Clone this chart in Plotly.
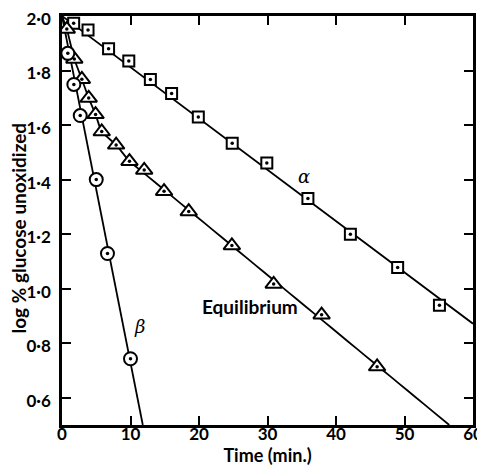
import numpy as np
import plotly.graph_objects as go

# Data
alpha_t = [1.7, 3.8, 6.8, 9.75, 12.9, 16.0, 19.9, 24.85, 29.9, 35.9, 42.1, 49.0, 55.1]
alpha_y = [1.973, 1.949, 1.880, 1.835, 1.767, 1.716, 1.630, 1.533, 1.461, 1.331, 1.200, 1.078, 0.939]

eq_t = [0.7, 1.8, 2.9, 3.9, 4.9, 5.8, 7.9, 9.85, 12.0, 14.9, 18.5, 24.8, 30.9, 37.9, 46.0]
eq_y = [1.952, 1.842, 1.768, 1.699, 1.639, 1.576, 1.527, 1.467, 1.435, 1.357, 1.283, 1.158, 1.017, 0.904, 0.714]

beta_t = [0.85, 1.73, 2.66, 5.0, 6.64, 10.0]
beta_y = [1.863, 1.749, 1.635, 1.400, 1.129, 0.743]

START_LOG = 2.0   # log10(100 %) at t = 0
Y_MIN, Y_MAX = 0.5, 2.0
X_MIN, X_MAX = 0, 60

y_ticks = [0.6, 0.8, 1.0, 1.2, 1.4, 1.6, 1.8, 2.0]
y_ticktext = ["0·6", "0·8", "1·0", "1·2", "1·4", "1·6", "1·8", "2·0"]
x_ticks = [0, 10, 20, 30, 40, 50, 60]

def fit_from_start(t, y):
    t = np.array(t); y = np.array(y)
    return np.sum(t * (y - START_LOG)) / np.sum(t * t)

# alpha fit line
ka = fit_from_start(alpha_t, alpha_y)
a_x = np.array([0, X_MAX])
a_y = START_LOG + ka * a_x

# beta fit line
kb = fit_from_start(beta_t, beta_y)
b_end = (Y_MIN - START_LOG) / kb
b_x = np.array([0, b_end])
b_y = START_LOG + kb * b_x

# equilibrium: early points joined, late phase straight fit
et = np.array(eq_t); ey = np.array(eq_y)
late = et >= 9.85
p = np.polyfit(et[late], ey[late], 1)
e_end = (Y_MIN - p[1]) / p[0]
early = ~late
lx = np.linspace(et[late][0], e_end, 20)
ex = np.concatenate([[0], et[early], lx])
eyc = np.concatenate([[START_LOG], ey[early], np.polyval(p, lx)])

fig = go.Figure()
line_style = dict(color="black", width=1.8)
fig.add_trace(go.Scatter(x=a_x, y=a_y, mode="lines", line=line_style, hoverinfo="skip"))
fig.add_trace(go.Scatter(x=b_x, y=b_y, mode="lines", line=line_style, hoverinfo="skip"))
fig.add_trace(go.Scatter(x=ex, y=eyc, mode="lines",
                         line=dict(color="black", width=1.8, shape="spline", smoothing=0.6), hoverinfo="skip"))

mk_line = dict(color="black", width=2)
for tx, ty, sym, sz in [(alpha_t, alpha_y, "square", 11),
                        (eq_t, eq_y, "triangle-up", 14.5),
                        (beta_t, beta_y, "circle", 13)]:
    fig.add_trace(go.Scatter(x=tx, y=ty, mode="markers",
                             marker=dict(symbol=sym, size=sz, color="white", line=mk_line)))
    fig.add_trace(go.Scatter(x=tx, y=ty, mode="markers",
                             marker=dict(symbol="circle", size=3.5, color="black", line=dict(width=0))))

font = dict(family="Lato", size=17, color="black", weight="bold")
big = dict(family="Lato", size=19, color="black", weight="bold")
xt_font = dict(family="Lato", size=18, color="black", weight="bold")
fig.add_annotation(x=35.3, y=1.413, text="<i>α</i>", showarrow=False,
                   font=dict(family="DejaVu Serif", size=18, color="black"))
fig.add_annotation(x=11.3, y=0.861, text="<i>β</i>", showarrow=False,
                   font=dict(family="DejaVu Serif", size=18, color="black"))
fig.add_annotation(x=27.5, y=0.935, text="Equilibrium", showarrow=False, font=big)
fig.add_annotation(xref="paper", yref="paper", x=0, y=0.5, xshift=-44, yshift=-8,
                   xanchor="center", yanchor="middle",
                   text="log % glucose unoxidized", textangle=-90, showarrow=False, font=big)

axis_common = dict(showline=True, linecolor="black", linewidth=2.5, mirror="ticks",
                   ticks="inside", ticklen=9, tickwidth=1.8, tickcolor="black", automargin=False,
                   showgrid=False, zeroline=False, tickfont=font, ticklabeloverflow="allow")
fig.update_xaxes(range=[X_MIN, X_MAX], tickvals=x_ticks, ticklabelstandoff=-8,
                 title=dict(text="Time (min.)", font=xt_font, standoff=18), **axis_common)
fig.update_yaxes(range=[Y_MIN, Y_MAX], tickvals=y_ticks, ticktext=y_ticktext, ticklabelstandoff=5,
                 ticklabelshift=3, **axis_common)

fig.update_layout(width=476, height=458, margin=dict(l=54, r=11, t=8, b=41),
                  paper_bgcolor="white", plot_bgcolor="white", showlegend=False)
fig.write_html("out.html")
